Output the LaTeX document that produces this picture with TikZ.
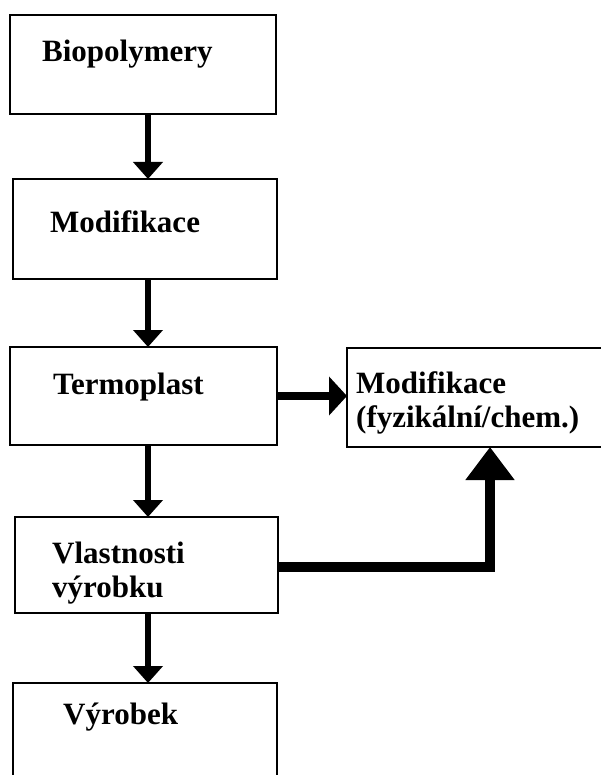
\documentclass[tikz,border=0pt]{standalone}
\usepackage{fontspec}
\setmainfont{Liberation Serif}
\usetikzlibrary{arrows.meta}
\begin{document}
\begin{tikzpicture}[x=1pt,y=-1pt,
 box/.style={draw=black, line width=2pt, rectangle, inner sep=0pt, outer sep=0pt, fill=white},
 lbl/.style={anchor=base west, inner sep=0pt, font=\bfseries\fontsize{31pt}{36pt}\selectfont},
 varr/.style={line width=6pt, -{Triangle[length=17pt,width=29pt]}},
 harr/.style={line width=8pt, -{Triangle[length=18pt,width=38pt]}},
 earr/.style={line width=10pt, line join=miter, -{Triangle[length=33pt,width=47pt]}}]
\useasboundingbox (0,0) rectangle (601,775);
\clip (0,0) rectangle (601,775);
\fill[white] (0,0) rectangle (601,775);
% boxes
\node[box, minimum width=266pt, minimum height=99pt] (b1) at (143,64.5) {};
\node[box, minimum width=264pt, minimum height=100pt] (b2) at (145,229) {};
\node[box, minimum width=267pt, minimum height=98pt] (b3) at (143.5,396) {};
\node[box, minimum width=263pt, minimum height=96pt] (b4) at (146.5,565) {};
\node[box, minimum width=264pt, minimum height=117pt] (b5) at (145,741.5) {};
\node[box, minimum width=273pt, minimum height=99pt] (rb) at (483.5,397.5) {};
% labels
\node[lbl] (t1) at (42,62) {Biopolymery};
\node[lbl] (t2) at (50,233) {Modifikace};
\node[lbl] (t3) at (53,394) {Termoplast};
\node[lbl] (t4a) at (52,563) {Vlastnosti};
\node[lbl] (t4b) at (52,597) {výrobku};
\node[lbl] (t5) at (63,724) {Výrobek};
\node[lbl] (tr1) at (356,393) {Modifikace};
\node[lbl] (tr2) at (356,427) {(fyzikální/chem.)};
% connectors
\coordinate (ax) at (148,0);
\draw[varr] (ax |- b1.south) -- (ax |- b2.north);
\draw[varr] (ax |- b2.south) -- (ax |- b3.north);
\draw[varr] (ax |- b3.south) -- (ax |- b4.north);
\draw[varr] (ax |- b4.south) -- (ax |- b5.north);
\draw[harr] (b3.east) -- (b3.east -| rb.west);
\coordinate (e1) at (490,567);
\draw[earr] (b4.east |- e1) -- (e1) -- (e1 |- rb.south);
\end{tikzpicture}
\end{document}
